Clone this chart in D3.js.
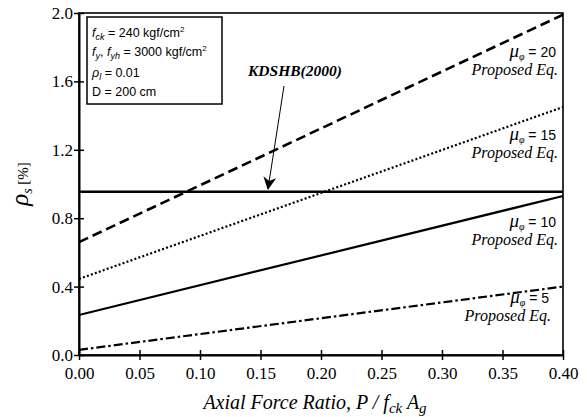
<!DOCTYPE html>
<html>
<head>
<meta charset="utf-8">
<script src="https://cdn.jsdelivr.net/npm/d3@7"></script>
<style>
  html, body { margin: 0; padding: 0; background: #fff; }
  svg { display: block; }
</style>
</head>
<body>
<svg id="chart" width="587" height="417"></svg>
<script>
// Axial force ratio endpoints and required confinement steel ratio (%)
const axialRatio = [0.00, 0.40];
const mu20 = [0.66, 1.99];
const mu15 = [0.445, 1.45];
const mu10 = [0.234, 0.93];
const mu5  = [0.03, 0.40];
const kdshb = [0.955, 0.955];

const xTicks = [0.00, 0.05, 0.10, 0.15, 0.20, 0.25, 0.30, 0.35, 0.40];
const yTicks = [0.0, 0.4, 0.8, 1.2, 1.6, 2.0];

const muLabels = ["20", "15", "10", "5"];

const SERIF = '"Liberation Serif", "Times New Roman", serif';
const SANS = '"Liberation Sans", Arial, sans-serif';

const svg = d3.select("#chart");
const x = d3.scaleLinear().domain([0, 0.4]).range([79, 563]);
const y = d3.scaleLinear().domain([0, 2.0]).range([355, 13]);

// Plot frame
svg.append("rect")
  .attr("x", x(0)).attr("y", y(2))
  .attr("width", x(0.4) - x(0)).attr("height", y(0) - y(2))
  .attr("fill", "none").attr("stroke", "#000").attr("stroke-width", 1.6);

// Axes with ticks crossing the frame
const xAxis = svg.append("g").attr("transform", `translate(0,${y(0)})`)
  .call(d3.axisBottom(x).tickValues(xTicks).tickFormat(d3.format(".2f")).tickSizeOuter(0));
xAxis.attr("font-family", null).attr("font-size", null);
xAxis.selectAll(".tick line").attr("y1", -5).attr("y2", 5).attr("stroke-width", 1.5);
xAxis.selectAll(".tick text").style("font-family", SERIF).style("font-size", "17px")
  .attr("dy", "0.35em").attr("y", 18).attr("fill", "#000");
xAxis.select(".domain").attr("stroke-width", 2);

const yAxis = svg.append("g").attr("transform", `translate(${x(0)},0)`)
  .call(d3.axisLeft(y).tickValues(yTicks).tickFormat(d3.format(".1f")).tickSizeOuter(0));
yAxis.attr("font-family", null).attr("font-size", null);
yAxis.selectAll(".tick line").attr("x1", -5).attr("x2", 5).attr("stroke-width", 1.5);
yAxis.selectAll(".tick text").style("font-family", SERIF).style("font-size", "17px")
  .attr("x", -6).attr("fill", "#000");
yAxis.select(".domain").attr("stroke-width", 2);

// Series lines
const line = d3.line().x((d, i) => x(axialRatio[i])).y(d => y(d));
const series = [
  { v: mu20, dash: "10,5", w: 2.6 },
  { v: mu15, dash: "2,2.2", w: 2.2 },
  { v: mu10, dash: null, w: 2.2 },
  { v: mu5,  dash: "9,3,2.5,3", w: 2.2 },
  { v: kdshb, dash: null, w: 2.6 }
];
series.forEach(s => {
  svg.append("path").datum(s.v).attr("d", line)
    .attr("fill", "none").attr("stroke", "#000")
    .attr("stroke-width", s.w)
    .attr("stroke-dasharray", s.dash);
});

// Curve labels on the right
const labelPos = [
  { top: 57, right: 556 },
  { top: 140, right: 556 },
  { top: 227, right: 556 },
  { top: 303, right: 549 }
];
muLabels.forEach((m, i) => {
  const p = labelPos[i];
  const t = svg.append("text").attr("x", p.right).attr("y", p.top).attr("text-anchor", "end");
  t.append("tspan").style("font-family", SERIF).style("font-style", "italic").style("font-size", "19px").text("μ");
  t.append("tspan").style("font-family", SERIF).style("font-style", "italic").style("font-size", "10px").attr("dy", 3).text("φ");
  t.append("tspan").style("font-family", SANS).style("font-size", "14px").attr("dy", -3).text(" = " + m);
  svg.append("text").attr("x", p.right + 2).attr("y", p.top + 18)
    .attr("text-anchor", "end")
    .style("font-family", SERIF).style("font-style", "italic").style("font-size", "16px")
    .text("Proposed Eq.");
});

// Code provision label and arrow
svg.append("text").attr("x", 248).attr("y", 76)
  .style("font-family", SERIF).style("font-weight", "bold").style("font-style", "italic").style("font-size", "15.5px")
  .text("KDSHB(2000)");
const defs = svg.append("defs");
defs.append("marker").attr("id", "arrowhead")
  .attr("viewBox", "0 0 10 10").attr("refX", 9).attr("refY", 5)
  .attr("markerWidth", 13).attr("markerHeight", 13).attr("markerUnits", "userSpaceOnUse")
  .attr("orient", "auto")
  .append("path").attr("d", "M0,0 L10,5 L0,10 L3,5 Z").attr("fill", "#000");
svg.append("line").attr("x1", 284).attr("y1", 86).attr("x2", 268).attr("y2", y(kdshb[0]) - 3)
  .attr("stroke", "#000").attr("stroke-width", 1).attr("marker-end", "url(#arrowhead)");

// Parameter box
svg.append("rect").attr("x", 87).attr("y", 17).attr("width", 135).attr("height", 87)
  .attr("fill", "#fff").attr("stroke", "#000").attr("stroke-width", 1.5);
const box = svg.append("g").style("font-family", SANS).style("font-size", "12.5px");
const r1 = box.append("text").attr("x", 92).attr("y", 37);
r1.append("tspan").style("font-style", "italic").text("f");
r1.append("tspan").style("font-style", "italic").style("font-size", "9px").attr("dy", 3).text("ck");
r1.append("tspan").attr("dy", -3).text(" = 240 kgf/cm");
r1.append("tspan").style("font-size", "8px").attr("dy", -5).text("2");
const r2 = box.append("text").attr("x", 92).attr("y", 56);
r2.append("tspan").style("font-style", "italic").text("f");
r2.append("tspan").style("font-style", "italic").style("font-size", "9px").attr("dy", 3).text("y");
r2.append("tspan").attr("dy", -3).text(", ");
r2.append("tspan").style("font-style", "italic").text("f");
r2.append("tspan").style("font-style", "italic").style("font-size", "9px").attr("dy", 3).text("yh");
r2.append("tspan").attr("dy", -3).text(" = 3000 kgf/cm");
r2.append("tspan").style("font-size", "8px").attr("dy", -5).text("2");
const r3 = box.append("text").attr("x", 92).attr("y", 77);
r3.append("tspan").style("font-style", "italic").text("ρ");
r3.append("tspan").style("font-style", "italic").style("font-size", "9px").attr("dy", 3).text("l");
r3.append("tspan").attr("dy", -3).text(" = 0.01");
box.append("text").attr("x", 92).attr("y", 96).text("D = 200 cm");

// Axis titles
const xt = svg.append("text").attr("x", 315).attr("y", 409)
  .attr("text-anchor", "middle")
  .style("font-family", SERIF).style("font-style", "italic").style("font-size", "20px");
xt.append("tspan").text("Axial Force Ratio,  P / f");
xt.append("tspan").style("font-size", "15px").attr("dy", 4).text("ck");
xt.append("tspan").attr("dy", -4).text(" A");
xt.append("tspan").style("font-size", "15px").attr("dy", 4).text("g");

const yt = svg.append("text")
  .attr("transform", "translate(28,184) rotate(-90)").attr("text-anchor", "middle")
  .style("font-family", SERIF);
yt.append("tspan").style("font-style", "italic").style("font-size", "25px").text("ρ");
yt.append("tspan").style("font-style", "italic").style("font-size", "14px").attr("dy", 4).text("s");
yt.append("tspan").style("font-size", "15px").attr("dy", -4).text("   [%]");
</script>
</body>
</html>
